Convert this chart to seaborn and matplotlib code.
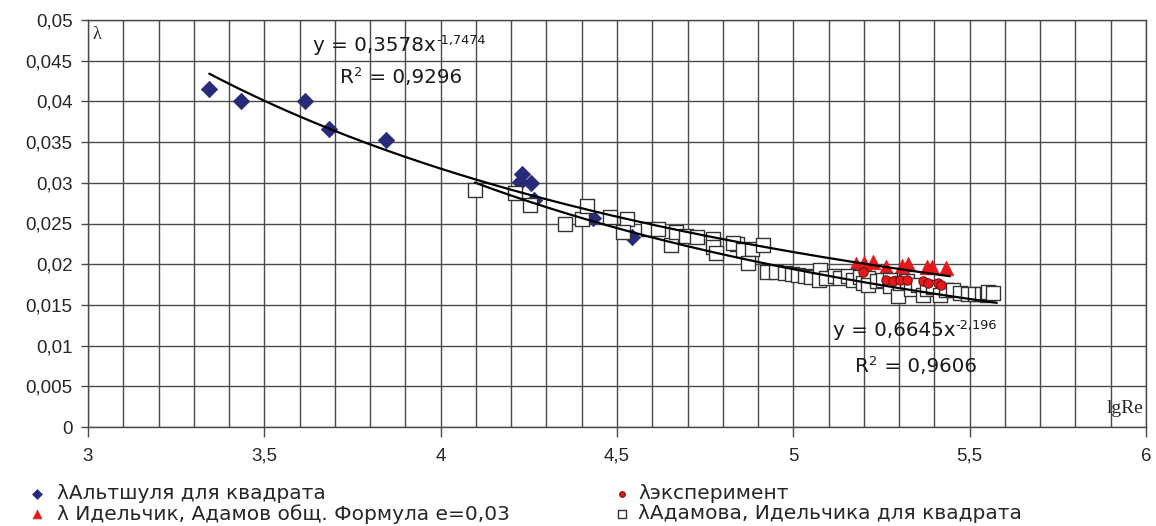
import numpy as np
import pandas as pd
import seaborn as sns
import matplotlib.pyplot as plt
from matplotlib.ticker import MultipleLocator, FixedLocator, FixedFormatter

# λАльтшуля для квадрата
alt_x = [3.344, 3.434, 3.616, 3.683, 3.844, 4.230, 4.225, 4.256, 4.265, 4.432, 4.542]
alt_y = [0.0415, 0.0400, 0.0400, 0.0366, 0.0352, 0.0311, 0.0301, 0.0300, 0.0279, 0.0257, 0.0233]

# λэксперимент
exp_x = [5.198, 5.262, 5.283, 5.302, 5.321, 5.368, 5.383, 5.411, 5.420]
exp_y = [0.0190, 0.0181, 0.0179, 0.0181, 0.0181, 0.0179, 0.0177, 0.0177, 0.0174]

# λ Идельчик, Адамов общ. Формула е=0,03
idl_x = [5.179, 5.200, 5.225, 5.263, 5.307, 5.326, 5.378, 5.392, 5.434]
idl_y = [0.0200, 0.0202, 0.0203, 0.0197, 0.0198, 0.0200, 0.0197, 0.0197, 0.0195]

# λАдамова, Идельчика для квадрата
ada_x = [4.097, 4.211, 4.253, 4.352, 4.400, 4.416, 4.480, 4.527, 4.518, 4.589,
         4.615, 4.653, 4.667, 4.695, 4.727, 4.771, 4.773, 4.782, 4.841, 4.830,
         4.858, 4.882, 4.913, 4.872, 4.924, 4.951, 4.976, 4.995, 5.014, 5.033,
         5.049, 5.075, 5.073, 5.094, 5.118, 5.132, 5.156, 5.170, 5.189, 5.198,
         5.212, 5.212, 5.236, 5.255, 5.274, 5.274, 5.297, 5.302, 5.321, 5.335,
         5.354, 5.368, 5.378, 5.397, 5.416, 5.434, 5.453, 5.472, 5.496, 5.515,
         5.534, 5.548, 5.553, 5.567]
ada_y = [0.0291, 0.0287, 0.0273, 0.0250, 0.0255, 0.0271, 0.0258, 0.0256, 0.0240, 0.0243,
         0.0243, 0.0224, 0.0240, 0.0235, 0.0233, 0.0231, 0.0221, 0.0214, 0.0225, 0.0226,
         0.0217, 0.0219, 0.0224, 0.0201, 0.0191, 0.0190, 0.0189, 0.0188, 0.0187, 0.0186,
         0.0184, 0.0193, 0.0181, 0.0183, 0.0185, 0.0183, 0.0185, 0.0181, 0.0184, 0.0177,
         0.0183, 0.0174, 0.0179, 0.0181, 0.0181, 0.0173, 0.0161, 0.0177, 0.0179, 0.0170,
         0.0174, 0.0162, 0.0170, 0.0172, 0.0162, 0.0168, 0.0168, 0.0165, 0.0164, 0.0164,
         0.0163, 0.0162, 0.0166, 0.0165]

# trendlines (power type, coefficients as printed on the chart)
fit1_a, fit1_b, fit1_range = 0.3578, -1.7474, (3.344, 5.444)
fit2_a, fit2_b, fit2_range = 0.6645, -2.196, (4.097, 5.577)

xtick_vals = [3, 3.5, 4, 4.5, 5, 5.5, 6]
xtick_labels = ["3", "3,5", "4", "4,5", "5", "5,5", "6"]
ytick_vals = [0, 0.005, 0.01, 0.015, 0.02, 0.025, 0.03, 0.035, 0.04, 0.045, 0.05]
ytick_labels = ["0", "0,005", "0,01", "0,015", "0,02", "0,025", "0,03", "0,035", "0,04", "0,045", "0,05"]

sns.set_theme(style="white")
plt.rcParams["font.family"] = ["Liberation Sans", "DejaVu Sans"]

fig = plt.figure(figsize=(11.56, 5.26), dpi=100)
ax = fig.add_axes([88 / 1156, 99 / 526, 1058 / 1156, 407 / 526])

navy = "#262a78"
red = "#e3191c"
txt = "#1a1a1a"

sns.scatterplot(x=alt_x, y=alt_y, ax=ax, marker="D", s=70, color=navy, edgecolor=navy,
                linewidth=0.5, label="λАльтшуля для квадрата", zorder=3)
sns.scatterplot(x=exp_x, y=exp_y, ax=ax, marker="o", s=45, color=red, edgecolor="#7a1010",
                linewidth=0.8, label="λэксперимент", zorder=3.5)
sns.scatterplot(x=idl_x, y=idl_y, ax=ax, marker="^", s=110, color=red, edgecolor=red,
                linewidth=0.5, label="λ Идельчик, Адамов общ. Формула е=0,03", zorder=3)
sns.scatterplot(x=ada_x, y=ada_y, ax=ax, marker="s", s=110, color="white", edgecolor="#333333",
                linewidth=1.0, label="λАдамова, Идельчика для квадрата", zorder=3)

for a, b, (x0, x1) in [(fit1_a, fit1_b, fit1_range), (fit2_a, fit2_b, fit2_range)]:
    xs = np.linspace(x0, x1, 200)
    sns.lineplot(x=xs, y=a * xs ** b, ax=ax, color="black", linewidth=1.6, zorder=4)

ax.set_xlim(3, 6)
ax.set_ylim(0, 0.05)
ax.xaxis.set_major_locator(FixedLocator(xtick_vals))
ax.xaxis.set_major_formatter(FixedFormatter(xtick_labels))
ax.xaxis.set_minor_locator(MultipleLocator(0.1))
ax.yaxis.set_major_locator(FixedLocator(ytick_vals))
ax.yaxis.set_major_formatter(FixedFormatter(ytick_labels))

gc = "#4a4a4a"
ax.grid(True, which="both", axis="x", color=gc, linewidth=1.0)
ax.grid(True, which="major", axis="y", color=gc, linewidth=1.0)
ax.set_axisbelow(True)
for sp in ax.spines.values():
    sp.set_color(gc)
    sp.set_linewidth(1.0)

ax.tick_params(axis="x", which="major", direction="out", length=7, width=1, color=gc,
               labelsize=13.5, pad=8, bottom=True)
ax.tick_params(axis="x", which="minor", length=0)
ax.tick_params(axis="y", which="major", direction="out", length=5, width=1, color=gc,
               labelsize=13.5, pad=6, left=True)
ax.set_xlabel("")
ax.set_ylabel("")

eq_font = ["DejaVu Sans"]


def eq_text(x, y, base, sup, tail=""):
    # base text, raised superscript, then the rest on the base line
    t = ax.text(x, y, base, fontsize=14.3, va="center", ha="left", color=txt, zorder=5,
                family=eq_font)
    s = ax.annotate(sup, xy=(1, 1), xycoords=t, xytext=(0.3, 1.5), textcoords="offset points",
                    fontsize=9.3, va="top", ha="left", color=txt, zorder=5, family=eq_font)
    if tail:
        ax.annotate(tail, xy=(1, 0.5), xycoords=(s, t), xytext=(0.3, 0),
                    textcoords="offset points", fontsize=14.3, va="center", ha="left",
                    color=txt, zorder=5, family=eq_font)


eq_text(3.638, 0.0469, "y = 0,3578x", "-1,7474")
eq_text(3.714, 0.0429, "R", "2", " = 0,9296")
eq_text(5.112, 0.0119, "y = 0,6645x", "-2,196")
eq_text(5.175, 0.0074, "R", "2", " = 0,9606")

ax.text(0.004, 0.985, "λ", transform=ax.transAxes, fontsize=13, va="top", ha="left",
        family=["Liberation Serif", "DejaVu Serif"])
ax.text(0.998, 0.045, "lgRe", transform=ax.transAxes, fontsize=14, va="center", ha="right",
        family=["Liberation Serif", "DejaVu Serif"])

handles, labels = ax.get_legend_handles_labels()
ax.get_legend().remove()
leg_font = {"family": ["DejaVu Sans"], "size": 14.5}
fig.legend([handles[0], handles[2]], [labels[0], labels[2]], loc="upper left",
           bbox_to_anchor=(0.0165, 0.095), frameon=False, prop=leg_font, markerscale=0.6,
           handlelength=1.0, handletextpad=0.5, labelspacing=0.05, borderaxespad=0)
fig.legend([handles[1], handles[3]], [labels[1], labels[3]], loc="upper left",
           bbox_to_anchor=(0.5225, 0.095), frameon=False, prop=leg_font, markerscale=0.6,
           handlelength=1.0, handletextpad=0.3, labelspacing=0.05, borderaxespad=0)

fig.savefig("out.png", dpi=100)
